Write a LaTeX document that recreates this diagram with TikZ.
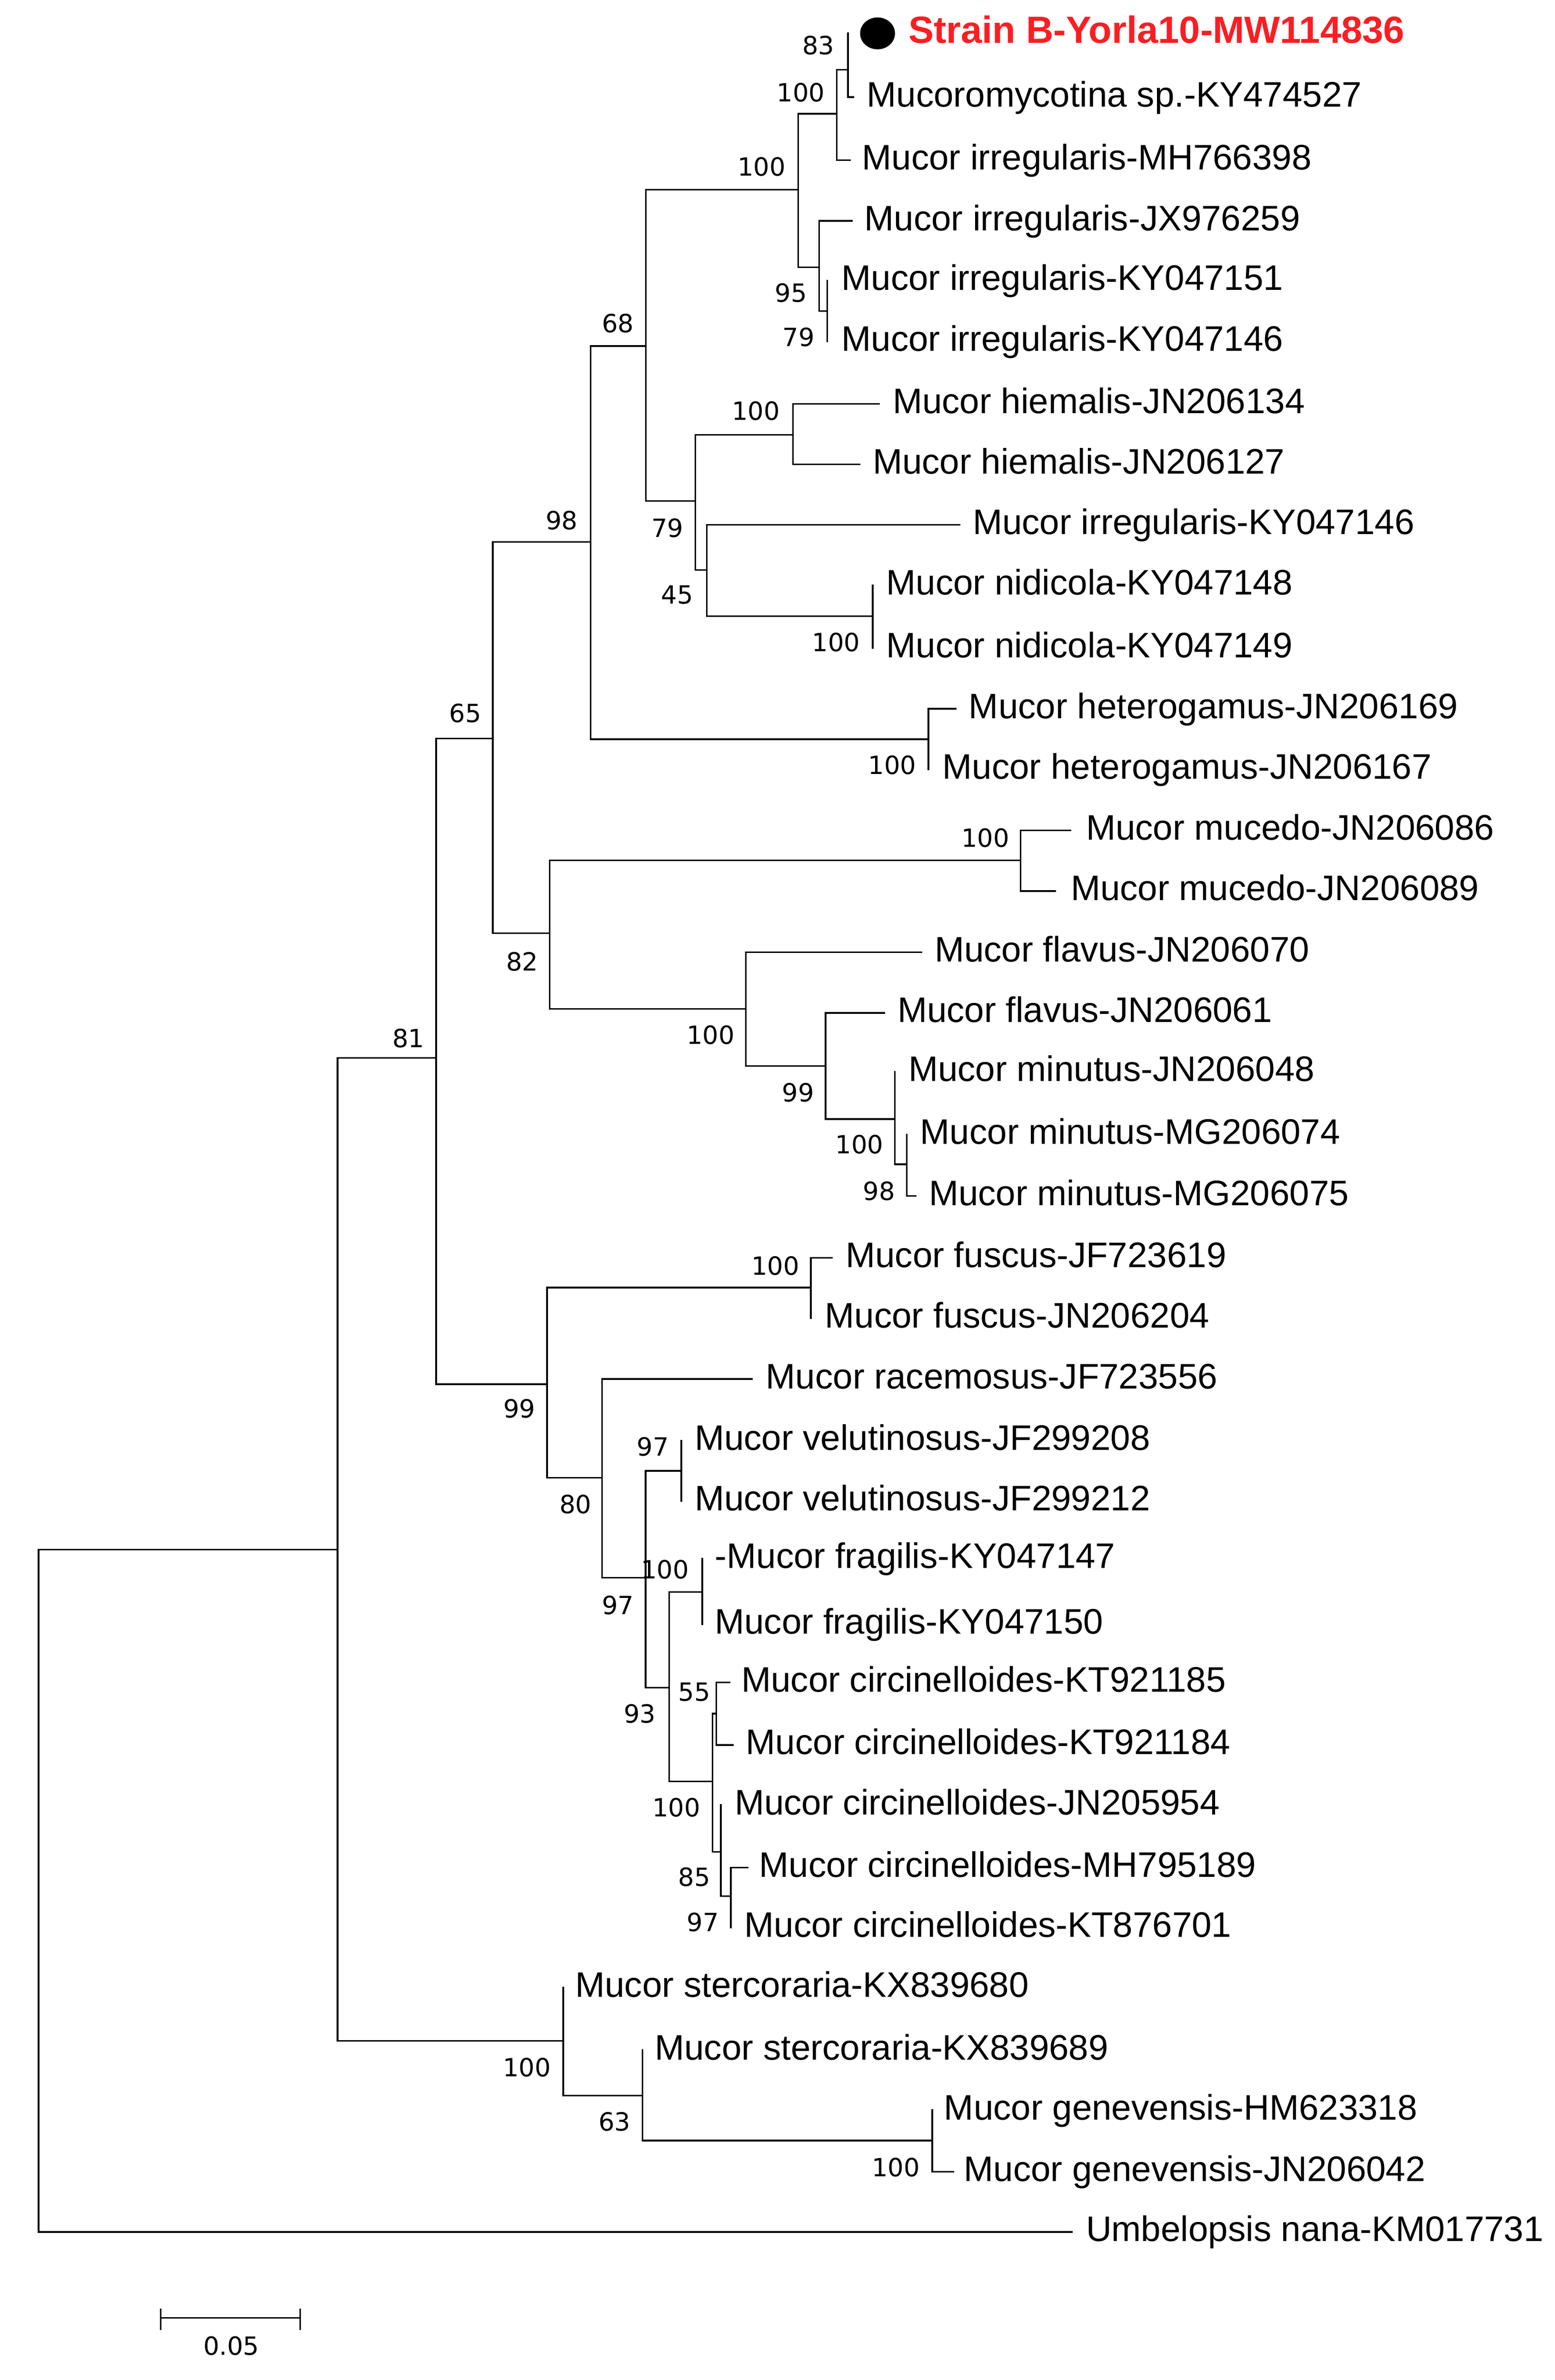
\documentclass[tikz,border=0pt]{standalone}
\usepackage{fontspec}
\setmainfont{Liberation Sans}
\newfontfamily\bsfont{DejaVu Sans}
\definecolor{strainred}{RGB}{250,30,35}
\begin{document}
\begin{tikzpicture}[x=0.02cm,y=-0.02cm,
  br/.style={line width=0.6pt,line cap=rect},
  leaf/.style={anchor=west,inner sep=0pt,font=\fontsize{13.3}{14}\selectfont,text height=0.716em,text depth=0pt},
  bs/.style={inner sep=0pt,font=\bsfont\fontsize{9.4}{10}\selectfont}]
\useasboundingbox (0,0) rectangle (1024,1568);
\fill[white] (0,0) rectangle (1024,1568);
% ---- top clade
\draw[br] (287.2,486.5)--(287.2,911.9);
\draw[br] (287.2,486.5)--(324.6,486.5);
\draw[br] (324.6,357)--(324.6,614.9);
\draw[br] (324.6,357)--(389,357);
\draw[br] (389,228)--(389,487);
\draw[br] (389,228)--(425.4,228);
\draw[br] (425.4,125)--(425.4,330);
\draw[br] (425.4,125)--(525.7,125);
\draw[br] (525.7,75)--(525.7,176);
\draw[br] (525.7,75)--(551.2,75);
\draw[br] (551.2,46)--(551.2,105.5);
\draw[br] (551.2,46)--(558.5,46);
\draw[br] (558.5,22)--(558.5,64);
\draw[br] (558.5,64)--(562,64);
\draw[br] (551.2,105.5)--(559.8,105.5);
\draw[br] (525.7,176)--(539.6,176);
\draw[br] (539.6,145.5)--(539.6,205);
\draw[br] (539.6,145.5)--(561,145.5);
\draw[br] (539.6,205)--(544.8,205);
\draw[br] (544.8,185)--(544.8,225);
\draw[br] (425.4,330)--(458,330);
\draw[br] (458,286.5)--(458,375.5);
\draw[br] (458,286.5)--(522.3,286.5);
\draw[br] (522.3,266)--(522.3,306);
\draw[br] (522.3,266)--(579,266);
\draw[br] (522.3,306)--(566,306);
\draw[br] (458,375.5)--(465.5,375.5);
\draw[br] (465.5,345.7)--(465.5,406);
\draw[br] (465.5,345.7)--(632,345.7);
\draw[br] (465.5,406)--(574.8,406);
\draw[br] (574.8,385.6)--(574.8,427);
\draw[br] (389,487)--(611.5,487);
\draw[br] (611.5,467)--(611.5,507);
\draw[br] (611.5,467)--(629.5,467);
% mucedo / flavus
\draw[br] (324.6,614.9)--(362,614.9);
\draw[br] (362,566.8)--(362,664.6);
\draw[br] (362,566.8)--(672.2,566.8);
\draw[br] (672.2,547)--(672.2,587);
\draw[br] (672.2,547)--(705,547);
\draw[br] (672.2,587)--(695,587);
\draw[br] (362,664.6)--(491.3,664.6);
\draw[br] (491.3,627.4)--(491.3,702.2);
\draw[br] (491.3,627.4)--(606.8,627.4);
\draw[br] (491.3,702.2)--(543.8,702.2);
\draw[br] (543.8,667.3)--(543.8,737.3);
\draw[br] (543.8,667.3)--(582.5,667.3);
\draw[br] (543.8,737.3)--(589.5,737.3);
\draw[br] (589.5,706.2)--(589.5,767);
\draw[br] (589.5,767)--(597.2,767);
\draw[br] (597.2,747.5)--(597.2,788);
\draw[br] (597.2,788)--(603,788);
% lower clade
\draw[br] (287.2,911.9)--(360.3,911.9);
\draw[br] (360.3,848.3)--(360.3,973.5);
\draw[br] (360.3,848.3)--(534,848.3);
\draw[br] (534,828.7)--(534,868.6);
\draw[br] (534,828.7)--(548,828.7);
\draw[br] (360.3,973.5)--(396.5,973.5);
\draw[br] (396.5,908.5)--(396.5,1039.5);
\draw[br] (396.5,908.5)--(495.2,908.5);
\draw[br] (396.5,1039.5)--(425.2,1039.5);
\draw[br] (425.2,969)--(425.2,1111.8);
\draw[br] (425.2,969)--(448.7,969);
\draw[br] (448.7,949)--(448.7,989);
\draw[br] (425.2,1111.8)--(440.7,1111.8);
\draw[br] (440.7,1048.9)--(440.7,1173.7);
\draw[br] (440.7,1048.9)--(462.6,1048.9);
\draw[br] (462.6,1027)--(462.6,1070);
\draw[br] (440.7,1173.7)--(469.2,1173.7);
\draw[br] (469.2,1129)--(469.2,1220.1);
\draw[br] (469.2,1129)--(471.8,1129);
\draw[br] (471.8,1108.4)--(471.8,1149.6);
\draw[br] (471.8,1108.4)--(480.5,1108.4);
\draw[br] (471.8,1149.6)--(482.7,1149.6);
\draw[br] (469.2,1220.1)--(474.8,1220.1);
\draw[br] (474.8,1189.2)--(474.8,1249.3);
\draw[br] (474.8,1249.3)--(481.4,1249.3);
\draw[br] (481.4,1230.4)--(481.4,1270);
\draw[br] (481.4,1230.4)--(492.3,1230.4);
% stercoraria
\draw[br] (222.3,697)--(222.3,1344.5);
\draw[br] (222.3,697)--(287.2,697);
\draw[br] (222.3,1344.5)--(371,1344.5);
\draw[br] (371,1309.5)--(371,1380.6);
\draw[br] (371,1380.6)--(423.2,1380.6);
\draw[br] (423.2,1350.7)--(423.2,1410.2);
\draw[br] (423.2,1410.2)--(614,1410.2);
\draw[br] (614,1390.2)--(614,1430.8);
\draw[br] (614,1430.8)--(628,1430.8);
% root
\draw[br] (25.4,1021)--(25.4,1470.4);
\draw[br] (25.4,1021)--(222.3,1021);
\draw[br] (25.4,1470.4)--(706,1470.4);
% strain marker
\fill (578,22) ellipse (11.5 and 10.5);
% leaf labels
\node[leaf,text=strainred,font=\bfseries\fontsize{14.2}{15}\selectfont] (t1) at (598,22) {Strain B-Yorla10-MW114836};
\node[leaf] (t2) at (570.6,64) {Mucoromycotina sp.-KY474527};
\node[leaf] (t3) at (567.5,105.5) {Mucor irregularis-MH766398};
\node[leaf] (t4) at (569,145.5) {Mucor irregularis-JX976259};
\node[leaf] (t5) at (554,185) {Mucor irregularis-KY047151};
\node[leaf] (t6) at (554,225) {Mucor irregularis-KY047146};
\node[leaf] (t7) at (587.7,266) {Mucor hiemalis-JN206134};
\node[leaf] (t8) at (574.5,306) {Mucor hiemalis-JN206127};
\node[leaf] (t9) at (640.4,345.7) {Mucor irregularis-KY047146};
\node[leaf] (t10) at (583.5,385.6) {Mucor nidicola-KY047148};
\node[leaf] (t11) at (583.5,427) {Mucor nidicola-KY047149};
\node[leaf] (t12) at (637.8,467) {Mucor heterogamus-JN206169};
\node[leaf] (t13) at (620.5,507) {Mucor heterogamus-JN206167};
\node[leaf] (t14) at (715,547) {Mucor mucedo-JN206086};
\node[leaf] (t15) at (705,587) {Mucor mucedo-JN206089};
\node[leaf] (t16) at (615.3,627.4) {Mucor flavus-JN206070};
\node[leaf] (t17) at (590.8,667.3) {Mucor flavus-JN206061};
\node[leaf] (t18) at (598,706.2) {Mucor minutus-JN206048};
\node[leaf] (t19) at (605.8,747.5) {Mucor minutus-MG206074};
\node[leaf] (t20) at (611.5,788) {Mucor minutus-MG206075};
\node[leaf] (t21) at (556.7,828.7) {Mucor fuscus-JF723619};
\node[leaf] (t22) at (543,868.6) {Mucor fuscus-JN206204};
\node[leaf] (t23) at (504.2,908.5) {Mucor racemosus-JF723556};
\node[leaf] (t24) at (457.2,949) {Mucor velutinosus-JF299208};
\node[leaf] (t25) at (457.2,989) {Mucor velutinosus-JF299212};
\node[leaf] (t26) at (470.6,1027) {-Mucor fragilis-KY047147};
\node[leaf] (t27) at (470.5,1070) {Mucor fragilis-KY047150};
\node[leaf] (t28) at (488,1108.4) {Mucor circinelloides-KT921185};
\node[leaf] (t29) at (491,1149.6) {Mucor circinelloides-KT921184};
\node[leaf] (t30) at (483.6,1189.2) {Mucor circinelloides-JN205954};
\node[leaf] (t31) at (499.8,1230.4) {Mucor circinelloides-MH795189};
\node[leaf] (t32) at (490,1270) {Mucor circinelloides-KT876701};
\node[leaf] (t33) at (378.6,1309.5) {Mucor stercoraria-KX839680};
\node[leaf] (t34) at (431,1350.7) {Mucor stercoraria-KX839689};
\node[leaf] (t35) at (621.5,1390.2) {Mucor genevensis-HM623318};
\node[leaf] (t36) at (634.6,1430.8) {Mucor genevensis-JN206042};
\node[leaf] (t37) at (715,1470.4) {Umbelopsis nana-KM017731};
% bootstrap values
\node[bs] (b1) at (539,30) {83};
\node[bs] (b2) at (527.5,61) {100};
\node[bs] (b3) at (501.6,110) {100};
\node[bs] (b4) at (521,193) {95};
\node[bs] (b5) at (526,222) {79};
\node[bs] (b6) at (407,213) {68};
\node[bs] (b7) at (497.8,270.6) {100};
\node[bs] (b8) at (439.6,347.8) {79};
\node[bs] (b9) at (446,392) {45};
\node[bs] (b10) at (550.7,423) {100};
\node[bs] (b11) at (370,343) {98};
\node[bs] (b12) at (587.7,504) {100};
\node[bs] (b13) at (306.5,470) {65};
\node[bs] (b14) at (649,552) {100};
\node[bs] (b15) at (344,633.5) {82};
\node[bs] (b16) at (468,682) {100};
\node[bs] (b17) at (525.7,719.7) {99};
\node[bs] (b18) at (566,754) {100};
\node[bs] (b19) at (579,784.7) {98};
\node[bs] (b20) at (269,684) {81};
\node[bs] (b21) at (510.7,834) {100};
\node[bs] (b22) at (342,928) {99};
\node[bs] (b23) at (430,953) {97};
\node[bs] (b24) at (379,991) {80};
\node[bs] (b25) at (438,1034) {100};
\node[bs] (b26) at (407,1057.5) {97};
\node[bs] (b27) at (457.3,1114.6) {55};
\node[bs] (b28) at (421.4,1129) {93};
\node[bs] (b29) at (445.5,1190.9) {100};
\node[bs] (b30) at (457.3,1236.6) {85};
\node[bs] (b31) at (463,1266.5) {97};
\node[bs] (b32) at (347,1362) {100};
\node[bs] (b33) at (404.8,1397.8) {63};
\node[bs] (b34) at (590,1428) {100};
% scale bar
\coordinate (s1) at (105.9,1527);
\coordinate (s2) at (197.8,1527);
\draw[br] (s1)--(s2);
\draw[br] (105.9,1521.6)--(105.9,1534.6);
\draw[br] (197.8,1521.6)--(197.8,1534.6);
\node[bs] (sl) at (152.3,1545.6) {0.05};
\end{tikzpicture}
\end{document}
